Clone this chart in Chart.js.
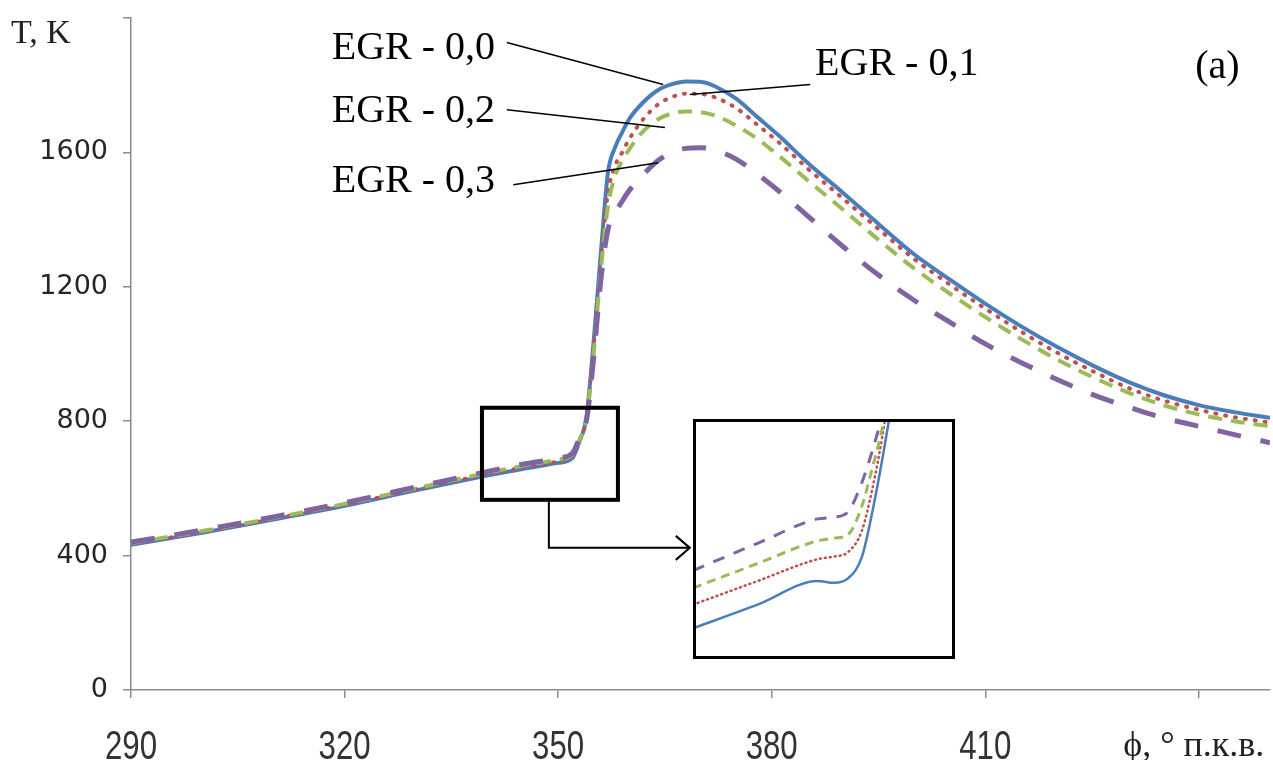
<!DOCTYPE html>
<html>
<head>
<meta charset="utf-8">
<script src="https://cdn.jsdelivr.net/npm/chart.js@4.4.1/dist/chart.umd.min.js"></script>
<style>
  html, body { margin: 0; padding: 0; background: #fff; }
  #wrap { position: relative; width: 1273px; height: 760px; }
  #main { position: absolute; left: 0; top: 0; }
  #inset { position: absolute; left: 693px; top: 419px; }
</style>
</head>
<body>
<div id="wrap">
  <canvas id="main" width="1273" height="760"></canvas>
  <canvas id="inset" width="262" height="240"></canvas>
</div>
<script>
// ---- Data (crank angle, degrees; temperature, K) ----
const phi = [290,300,310,320,330,340,345,350,352,353,354,355,356,357,358,359,360,362,364,366,368,370,372,375,378,381,385,390,395,400,405,410,415,420,425,430,435,440,445,450];
const tEGR00 = [432,468,507,548,594,638,658,676,690,740,815,1040,1300,1540,1615,1660,1700,1750,1785,1803,1811,1810,1797,1760,1705,1650,1570,1480,1387,1297,1222,1150,1083,1022,967,918,878,848,827,810];
const tEGR01 = [434,470,509,551,597,642,662,680,694,742,812,1025,1280,1480,1560,1600,1640,1700,1742,1765,1775,1774,1764,1732,1682,1630,1553,1463,1372,1283,1207,1135,1067,1005,950,900,862,834,812,796];
const tEGR02 = [437,473,512,554,600,646,667,686,700,745,808,1005,1250,1440,1530,1575,1610,1664,1698,1716,1722,1720,1710,1680,1640,1590,1518,1430,1340,1255,1180,1110,1045,985,932,886,848,820,800,785];
const tEGR03 = [440,476,515,557,604,650,672,690,705,750,805,990,1220,1370,1420,1455,1487,1535,1575,1600,1612,1614,1607,1580,1535,1485,1412,1320,1235,1160,1095,1030,975,925,880,843,810,785,760,736];

const seriesNames = ["EGR - 0,0", "EGR - 0,1", "EGR - 0,2", "EGR - 0,3"];
const xTicks = [290, 320, 350, 380, 410, 440];
const xTickLabels = ["290", "320", "350", "380", "410", ""];
const yTicks = [0, 400, 800, 1200, 1600, 2000];
const xTitle = "ϕ, ° п.к.в.";
const yTitle = "T, K";

// Inset (magnified view of the boxed region)
const insetPhi = [339.3, 344.0, 348.4, 349.6, 350.6, 351.6, 352.4, 353.1, 353.6, 354.5];
const insetEGR00 = [601, 628, 655, 653, 658, 682, 736, 794, 840, 920];
const insetEGR01 = [628, 655, 680, 683, 688, 712, 762, 820, 870, 950];
const insetEGR02 = [647, 675, 701, 704, 708, 740, 786, 830, 880, 960];
const insetEGR03 = [667, 698, 726, 728, 734, 767, 805, 845, 880, 960];

const colors = ["#4a7ebb", "#c0504d", "#9bbb59", "#8064a2"];

function pts(xs, ys) { return xs.map((x, i) => ({ x: x, y: ys[i] })); }

const serif = "'Liberation Serif', 'Times New Roman', serif";

const overlay = {
  id: 'overlay',
  afterDraw(chart) {
    const ctx = chart.ctx, xs = chart.scales.x, ys = chart.scales.y;
    const X = v => xs.getPixelForValue(v), Y = v => ys.getPixelForValue(v);
    ctx.save();
    // zoom box
    ctx.strokeStyle = '#000';
    ctx.lineWidth = 4;
    ctx.strokeRect(X(339.3), Y(840), X(358.4) - X(339.3), Y(566) - Y(840));
    // connector with arrow
    ctx.lineWidth = 2;
    ctx.beginPath();
    ctx.moveTo(X(348.7), Y(566));
    ctx.lineTo(X(348.7), Y(423));
    ctx.lineTo(X(368.5), Y(423));
    ctx.stroke();
    ctx.beginPath();
    ctx.moveTo(X(368.5) - 14, Y(423) - 12);
    ctx.lineTo(X(368.5), Y(423));
    ctx.lineTo(X(368.5) - 14, Y(423) + 12);
    ctx.stroke();
    // callout lines
    ctx.lineWidth = 1.5;
    const lines = [
      [342.8, 1927, 364.75, 1802],
      [385.4, 1802, 368.5, 1772],
      [342.8, 1727, 365.0, 1674],
      [343.7, 1504, 364.05, 1569]
    ];
    lines.forEach(l => {
      ctx.beginPath();
      ctx.moveTo(X(l[0]), Y(l[1]));
      ctx.lineTo(X(l[2]), Y(l[3]));
      ctx.stroke();
    });
    // callout labels
    ctx.fillStyle = '#000';
    ctx.font = "40px " + serif;
    ctx.textAlign = 'left';
    ctx.textBaseline = 'alphabetic';
    ctx.fillText(seriesNames[0], X(318.2), Y(1879));
    ctx.fillText(seriesNames[1], X(386.1), Y(1829));
    ctx.fillText(seriesNames[2], X(318.2), Y(1691));
    ctx.fillText(seriesNames[3], X(318.2), Y(1483));
    ctx.fillText("(a)", X(439.5), Y(1822));
    // x tick labels (condensed sans, as in the original)
    ctx.fillStyle = '#333';
    ctx.font = "40px 'Liberation Sans', Arial, sans-serif";
    ctx.textAlign = 'center';
    xTicks.forEach((v, i) => {
      if (!xTickLabels[i]) return;
      ctx.save();
      ctx.translate(X(v), 759);
      ctx.scale(0.78, 1);
      ctx.fillText(xTickLabels[i], 0, 0);
      ctx.restore();
    });
    // axis titles
    ctx.fillStyle = '#222';
    ctx.font = "34px " + serif;
    ctx.textAlign = 'left';
    ctx.fillText(yTitle, 11, Y(2000) + 25);
    ctx.font = "36px " + serif;
    ctx.textAlign = 'center';
    ctx.fillText(xTitle, X(440) - 5, 756);
    ctx.restore();
  }
};

new Chart(document.getElementById('main'), {
  type: 'line',
  data: {
    datasets: [
      { label: seriesNames[0], data: pts(phi, tEGR00), borderColor: colors[0], borderWidth: 4, order: 3 },
      { label: seriesNames[1], data: pts(phi, tEGR01), borderColor: colors[1], borderWidth: 4, borderDash: [1, 9], borderCapStyle: 'round', order: 2 },
      { label: seriesNames[2], data: pts(phi, tEGR02), borderColor: colors[2], borderWidth: 4, borderDash: [14, 9], order: 1 },
      { label: seriesNames[3], data: pts(phi, tEGR03), borderColor: colors[3], borderWidth: 5, borderDash: [24, 20], order: 0 }
    ]
  },
  options: {
    responsive: false, animation: false, devicePixelRatio: 1,
    layout: { padding: { top: 18, right: 3, left: 0, bottom: 0 } },
    plugins: { legend: { display: false }, tooltip: { enabled: false } },
    elements: { point: { radius: 0 }, line: { cubicInterpolationMode: 'monotone', fill: false } },
    scales: {
      x: {
        type: 'linear', min: 290, max: 450,
        afterFit(s) { s.height = 70; s.paddingLeft = 0; s.paddingRight = 0; },
        afterBuildTicks(s) { s.ticks = xTicks.map(v => ({ value: v })); },
        ticks: {
          callback: () => '',
          font: { size: 12 },
          color: '#333', padding: 4, maxRotation: 0, autoSkip: false
        },
        grid: { drawOnChartArea: false, tickLength: 8, color: '#8c8c8c', lineWidth: 1.5 },
        border: { color: '#8c8c8c', width: 1.5 }
      },
      y: {
        min: 0, max: 2000,
        afterFit(s) { s.width = 131; s.paddingTop = 0; s.paddingBottom = 0; },
        afterBuildTicks(s) { s.ticks = yTicks.map(v => ({ value: v })); },
        ticks: {
          callback: v => (v === 2000 ? '' : String(v)),
          font: { family: "'DejaVu Sans', Verdana, sans-serif", size: 27 },
          color: '#262626', padding: 15
        },
        grid: { drawOnChartArea: false, tickLength: 8, color: '#8c8c8c', lineWidth: 1.5 },
        border: { color: '#8c8c8c', width: 1.5 }
      }
    }
  },
  plugins: [overlay]
});

const insetFrame = {
  id: 'insetFrame',
  afterDraw(chart) {
    const ctx = chart.ctx, a = chart.chartArea;
    ctx.save();
    ctx.strokeStyle = '#000';
    ctx.lineWidth = 3;
    ctx.strokeRect(a.left + 1.5, a.top + 1.5, a.right - a.left - 3, a.bottom - a.top - 3);
    ctx.restore();
  }
};

new Chart(document.getElementById('inset'), {
  type: 'line',
  data: {
    datasets: [
      { label: seriesNames[0], data: pts(insetPhi, insetEGR00), borderColor: colors[0], borderWidth: 2.5, order: 3 },
      { label: seriesNames[1], data: pts(insetPhi, insetEGR01), borderColor: colors[1], borderWidth: 2.5, borderDash: [1, 4], borderCapStyle: 'round', order: 2 },
      { label: seriesNames[2], data: pts(insetPhi, insetEGR02), borderColor: colors[2], borderWidth: 3, borderDash: [9, 6], order: 1 },
      { label: seriesNames[3], data: pts(insetPhi, insetEGR03), borderColor: colors[3], borderWidth: 3, borderDash: [12, 10], order: 0 }
    ]
  },
  options: {
    responsive: false, animation: false, devicePixelRatio: 1,
    layout: { padding: 0 },
    plugins: { legend: { display: false }, tooltip: { enabled: false } },
    elements: { point: { radius: 0 }, line: { cubicInterpolationMode: 'monotone', fill: false } },
    scales: {
      x: { type: 'linear', min: 339.3, max: 358.4, display: false },
      y: { min: 566, max: 840, display: false }
    }
  },
  plugins: [insetFrame]
});
</script>
</body>
</html>
